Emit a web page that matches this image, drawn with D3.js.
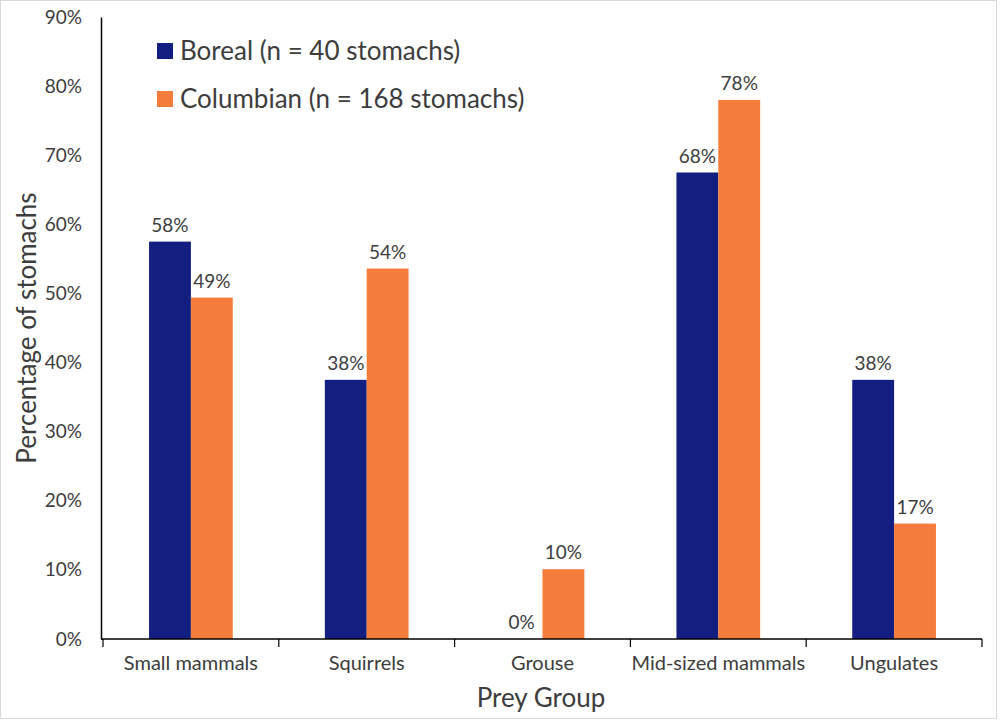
<!DOCTYPE html>
<html>
<head>
<meta charset="utf-8">
<script src="https://cdn.jsdelivr.net/npm/d3@7.9.0/dist/d3.min.js"></script>
<style>
  body { margin: 0; background: #fff; }
  svg { display: block; font-family: Lato, "Open Sans", sans-serif; }
</style>
</head>
<body>
<div id="chart"></div>
<script>
const categories = ['Small mammals', 'Squirrels', 'Grouse', 'Mid-sized mammals', 'Ungulates'];
const series = ['Boreal (n = 40 stomachs)', 'Columbian (n = 168 stomachs)'];
const boreal = [57.5, 37.5, 0, 67.5, 37.5];
const columbian = [49.4, 53.6, 10.1, 78.0, 16.7];
const yTicks = [0, 10, 20, 30, 40, 50, 60, 70, 80, 90];
const colors = ['#131f80', '#f47d3c'];

const width = 1000;
const height = 726;
const margin = { top: 17, right: 18, bottom: 87, left: 101 };
const textColor = '#3d3d3d';

const svg = d3.select('#chart')
  .append('svg')
  .attr('width', width)
  .attr('height', height);

// chart border
svg.append('rect')
  .attr('x', 0.5).attr('y', 0.5)
  .attr('width', width - 4).attr('height', height - 8)
  .attr('fill', 'none')
  .attr('stroke', '#d9d9d9');

const x = d3.scaleBand()
  .domain(categories)
  .range([margin.left + 2, width - margin.right])
  .paddingInner(0)
  .paddingOuter(0);

const xInner = d3.scaleBand()
  .domain(series)
  .range([0, x.bandwidth()])
  .paddingInner(0)
  .paddingOuter(1.1);

const y = d3.scaleLinear()
  .domain([0, 90])
  .range([height - margin.bottom, margin.top]);

const rows = categories.map((c, i) => ({ cat: c, values: [boreal[i], columbian[i]] }));

const groups = svg.append('g')
  .selectAll('g')
  .data(rows)
  .join('g')
  .attr('transform', d => `translate(${x(d.cat)},0)`);

groups.selectAll('rect')
  .data(d => d.values.map((v, j) => ({ s: series[j], v, j })))
  .join('rect')
  .attr('x', d => xInner(d.s))
  .attr('y', d => y(d.v))
  .attr('width', xInner.bandwidth())
  .attr('height', d => y(0) - y(d.v))
  .attr('fill', d => colors[d.j]);

groups.selectAll('text')
  .data(d => d.values.map((v, j) => ({ s: series[j], v, j })))
  .join('text')
  .attr('x', d => xInner(d.s) + xInner.bandwidth() / 2)
  .attr('y', d => y(d.v) - 10)
  .attr('text-anchor', 'middle')
  .attr('font-size', 19)
  .attr('fill', textColor)
  .text(d => Math.round(d.v) + '%');

// y axis
const yAxis = svg.append('g')
  .attr('transform', `translate(${margin.left},0)`)
  .call(d3.axisLeft(y).tickValues(yTicks).tickSize(0).tickPadding(19).tickFormat(d => d + '%'));
yAxis.select('.domain').attr('stroke', '#000').attr('stroke-width', 1.5);
yAxis.selectAll('text').attr('font-size', 19).attr('fill', textColor).attr('font-family', 'Lato, sans-serif');

// x axis
const xAxis = svg.append('g')
  .attr('transform', `translate(0,${y(0)})`)
  .call(d3.axisBottom(x).tickSize(0).tickPadding(17));
xAxis.select('.domain').attr('stroke', '#000').attr('stroke-width', 1.5)
  .attr('d', `M${margin.left},0H${width - margin.right}`);
xAxis.selectAll('text').attr('font-size', 20).attr('fill', textColor).attr('font-family', 'Lato, sans-serif');

// category separator ticks
const edges = categories.map(c => x(c)).concat([x(categories[categories.length - 1]) + x.bandwidth()]);
svg.append('g')
  .selectAll('line')
  .data(edges)
  .join('line')
  .attr('x1', d => d).attr('x2', d => d)
  .attr('y1', y(0)).attr('y2', y(0) + 8)
  .attr('stroke', '#000')
  .attr('stroke-width', 1.2);

// axis titles
svg.append('text')
  .attr('x', 541)
  .attr('y', 707)
  .attr('text-anchor', 'middle')
  .attr('font-size', 26)
  .attr('fill', textColor)
  .text('Prey Group');

svg.append('text')
  .attr('transform', 'translate(36,328) rotate(-90)')
  .attr('text-anchor', 'middle')
  .attr('font-size', 26)
  .attr('fill', textColor)
  .text('Percentage of stomachs');

// legend
const legend = svg.append('g')
  .selectAll('g')
  .data(series)
  .join('g')
  .attr('transform', (d, i) => `translate(157,${51 + i * 48})`);

legend.append('rect')
  .attr('x', 0).attr('y', -8)
  .attr('width', 16).attr('height', 16)
  .attr('fill', (d, i) => colors[i]);

legend.append('text')
  .attr('x', 23)
  .attr('y', 0)
  .attr('dy', '0.35em')
  .attr('font-size', 26)
  .attr('fill', textColor)
  .text(d => d);
</script>
</body>
</html>
